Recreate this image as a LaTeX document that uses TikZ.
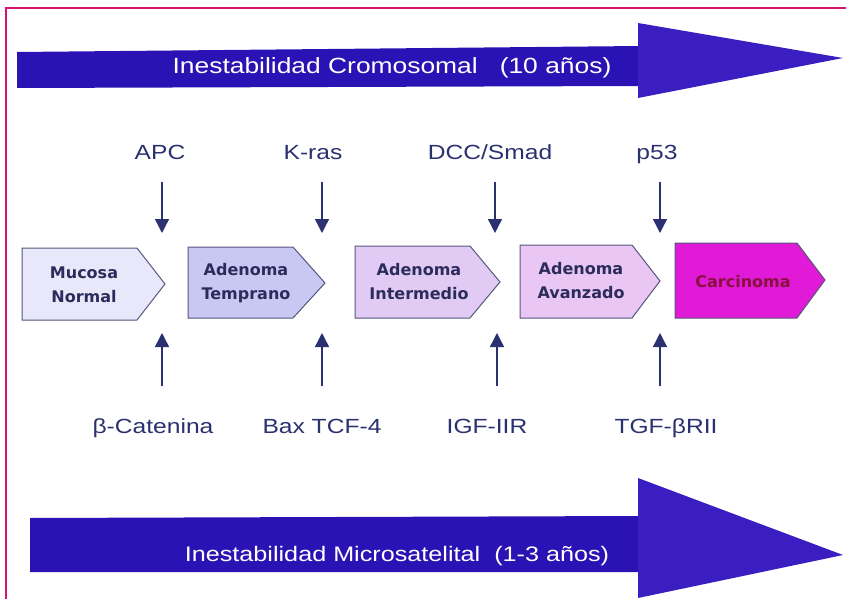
\documentclass[tikz,border=0pt]{standalone}
\usepackage{fontspec}
\setmainfont{Liberation Sans}
\newfontfamily\widesans[FakeStretch=1.2]{Liberation Sans}
\newfontfamily\boxfont{DejaVu Sans}
\usetikzlibrary{arrows.meta}
\definecolor{framec}{HTML}{D4146E}
\definecolor{bigblue}{HTML}{2A12B4}
\definecolor{headblue}{HTML}{3A1EC2}
\definecolor{lbl}{HTML}{2B3170}
\definecolor{boxtxt}{HTML}{2C2C5C}
\definecolor{fa}{HTML}{E9E8FB}
\definecolor{fb}{HTML}{C9C8F2}
\definecolor{fc}{HTML}{E1CBF5}
\definecolor{fd}{HTML}{E9C6F3}
\definecolor{fe}{HTML}{E01AD6}
\definecolor{carc}{HTML}{8A1040}
\tikzset{
  stageshape/.style={draw=boxtxt!80, line width=1pt},
  stagetext/.style={font=\boxfont\bfseries\fontsize{16}{24}\selectfont, text=boxtxt, align=center, inner sep=0pt},
  genelabel/.style={font=\widesans\fontsize{20.5}{24}\selectfont, text=lbl, inner sep=0pt, anchor=base},
  bigtext/.style={font=\widesans\fontsize{22}{26}\selectfont, text=white, inner sep=0pt, anchor=base},
  gene/.style={draw=lbl, line width=1.4pt, -{Triangle[width=14pt,length=14pt]}}
}
\begin{document}
\begin{tikzpicture}[x=1pt,y=-1pt]
\useasboundingbox (0,0) rectangle (846,599);
\fill[white] (0,0) rectangle (846,599);
% frame
\draw[framec, line width=2pt] (6,599) -- (6,8) -- (846,8);
% top big arrow
\fill[bigblue] (17,52) -- (640,46) -- (640,86) -- (17,88) -- cycle;
\fill[headblue] (638,23) -- (843,58) -- (638,98) -- cycle;
\node[bigtext] (tA) at (392,74) {Inestabilidad Cromosomal\ \ \ (10 años)};
% bottom big arrow
\fill[bigblue] (30,518) -- (640,516) -- (640,572) -- (30,572) -- cycle;
\fill[headblue] (638,478) -- (843,555) -- (638,598) -- cycle;
\node[bigtext, font=\widesans\fontsize{21}{26}\selectfont] (tB) at (397,561) {Inestabilidad Microsatelital\ \ (1-3 años)};
% stage boxes
\fill[fa] (22,248) -- (137,248) -- (165,284) -- (137,320) -- (22,320) -- cycle;
\draw[stageshape] (22,248) -- (137,248) -- (165,284) -- (137,320) -- (22,320) -- cycle;
\node[stagetext] (s1) at (84,285) {Mucosa\\Normal};
\fill[fb] (188,247) -- (293,247) -- (325,283) -- (293,318) -- (188,318) -- cycle;
\draw[stageshape] (188,247) -- (293,247) -- (325,283) -- (293,318) -- (188,318) -- cycle;
\node[stagetext] (s2) at (246,283) {Adenoma\\Temprano};
\fill[fc] (355,246) -- (470,246) -- (500,282) -- (470,318) -- (355,318) -- cycle;
\draw[stageshape] (355,246) -- (470,246) -- (500,282) -- (470,318) -- (355,318) -- cycle;
\node[stagetext] (s3) at (419,282) {Adenoma\\Intermedio};
\fill[fd] (520,245) -- (632,245) -- (660,281) -- (632,318) -- (520,318) -- cycle;
\draw[stageshape] (520,245) -- (632,245) -- (660,281) -- (632,318) -- (520,318) -- cycle;
\node[stagetext] (s4) at (581,281) {Adenoma\\Avanzado};
\fill[fe] (675,243) -- (797,243) -- (825,280) -- (797,318) -- (675,318) -- cycle;
\draw[stageshape] (675,243) -- (797,243) -- (825,280) -- (797,318) -- (675,318) -- cycle;
\node[stagetext, text=carc] (s5) at (743,282) {Carcinoma};
% top gene labels
\node[genelabel] (g1) at (160,160) {APC};
\node[genelabel] (g2) at (313,160) {K-ras};
\node[genelabel] (g3) at (490,160) {DCC/Smad};
\node[genelabel] (g4) at (657,160) {p53};
\coordinate (d1a) at (162,182); \coordinate (d1b) at (162,233);
\coordinate (d2a) at (322,182); \coordinate (d2b) at (322,233);
\coordinate (d3a) at (495,182); \coordinate (d3b) at (495,233);
\coordinate (d4a) at (660,182); \coordinate (d4b) at (660,233);
\draw[gene] (d1a) -- (d1b);
\draw[gene] (d2a) -- (d2b);
\draw[gene] (d3a) -- (d3b);
\draw[gene] (d4a) -- (d4b);
% bottom gene labels
\node[genelabel] (h1) at (153,433) {β-Catenina};
\node[genelabel] (h2) at (322,433) {Bax TCF-4};
\node[genelabel] (h3) at (487,433) {IGF-IIR};
\node[genelabel] (h4) at (666,433) {TGF-βRII};
\coordinate (u1a) at (162,386); \coordinate (u1b) at (162,333);
\coordinate (u2a) at (322,386); \coordinate (u2b) at (322,333);
\coordinate (u3a) at (497,386); \coordinate (u3b) at (497,333);
\coordinate (u4a) at (660,386); \coordinate (u4b) at (660,333);
\draw[gene] (u1a) -- (u1b);
\draw[gene] (u2a) -- (u2b);
\draw[gene] (u3a) -- (u3b);
\draw[gene] (u4a) -- (u4b);
\end{tikzpicture}
\end{document}
